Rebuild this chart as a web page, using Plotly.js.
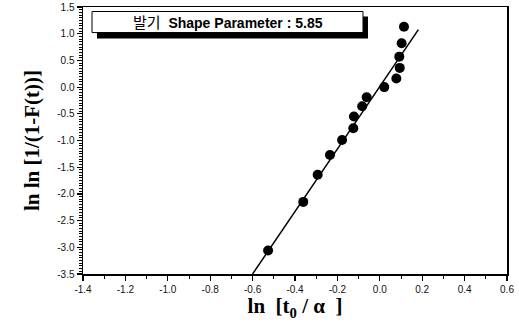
<!DOCTYPE html>
<html>
<head>
<meta charset="utf-8">
<script src="https://cdn.plot.ly/plotly-3.0.1.min.js"></script>
<style>html,body{margin:0;padding:0;background:#fff;}#chart{width:519px;height:332px;}</style>
</head>
<body>
<div id="chart"></div>
<script>
// Data
const lnT = [-0.527, -0.361, -0.293, -0.235, -0.178, -0.125, -0.122, -0.083, -0.062, 0.021, 0.078, 0.094, 0.092, 0.103, 0.114];
const lnlnF = [-3.06, -2.15, -1.64, -1.27, -0.99, -0.77, -0.55, -0.36, -0.19, 0.00, 0.16, 0.36, 0.57, 0.82, 1.13];
const fitX = [-0.60, 0.182];
const fitY = [-3.50, 1.075];
const xTicks = [-1.4, -1.2, -1.0, -0.8, -0.6, -0.4, -0.2, 0.0, 0.2, 0.4, 0.6];
const yTicks = [1.5, 1.0, 0.5, 0.0, -0.5, -1.0, -1.5, -2.0, -2.5, -3.0, -3.5];
const legendLabel = '발기';
const legendText = 'Shape Parameter : 5.85';

const traces = [
  {x: fitX, y: fitY, mode: 'lines', line: {color: '#000', width: 1.5}, hoverinfo: 'skip', showlegend: false},
  {x: lnT, y: lnlnF, mode: 'markers', marker: {color: '#000', size: 10}, showlegend: false}
];

const tickFont = {family: 'Arial, Liberation Sans, sans-serif', size: 10, color: '#111'};
const layout = {
  width: 519, height: 332,
  margin: {l: 83, r: 12, t: 7, b: 58},
  paper_bgcolor: '#fff', plot_bgcolor: '#fff',
  showlegend: false,
  xaxis: {
    range: [-1.4, 0.6], tickvals: xTicks, ticktext: xTicks.map(v => v.toFixed(1)),
    ticks: 'outside', ticklen: 5, tickwidth: 1.2, tickcolor: '#000',
    minor: {dtick: 0.1, ticks: 'outside', ticklen: 3, tickcolor: '#000', tickwidth: 1},
    showline: true, linecolor: '#000', linewidth: 1.5, mirror: true,
    showgrid: false, zeroline: false, tickfont: tickFont,
    title: {text: 'ln  [t<sub>0</sub> / α  ]', font: {family: 'Liberation Serif, Times New Roman, serif', size: 21, color: '#000', weight: 'bold'}, standoff: 5}
  },
  yaxis: {
    range: [-3.5, 1.5], tickvals: yTicks, ticktext: yTicks.map(v => v.toFixed(1)),
    ticks: 'outside', ticklen: 5, tickwidth: 1.2, tickcolor: '#000',
    minor: {dtick: 0.05, ticks: 'outside', ticklen: 3, tickcolor: '#000', tickwidth: 1},
    showline: true, linecolor: '#000', linewidth: 1.5, mirror: true,
    showgrid: false, zeroline: false, tickfont: tickFont,
    title: {text: 'ln ln [1/(1-F(t))]', font: {family: 'Liberation Serif, Times New Roman, serif', size: 21, color: '#000', weight: 'bold'}, standoff: 12}
  },
  shapes: [
    {type: 'rect', xref: 'x', yref: 'y', x0: -1.334, x1: -0.0557, y0: 0.909, y1: 1.322, fillcolor: '#000', line: {width: 0}},
    {type: 'rect', xref: 'x', yref: 'y', x0: -1.3575, x1: -0.0792, y0: 1.0216, y1: 1.4156, fillcolor: '#fff', line: {color: '#000', width: 1}}
  ],
  annotations: [
    {xref: 'x', yref: 'y', x: -0.718, y: 1.22, showarrow: false, xanchor: 'center', yanchor: 'middle',
     text: '<span style="font-family:\'Noto Sans CJK KR\';font-weight:normal;font-size:15px">' + legendLabel + '</span>  <b>' + legendText + '</b>',
     font: {family: 'Arial, Liberation Sans, sans-serif', size: 14, color: '#000'}}
  ]
};

Plotly.newPlot('chart', traces, layout, {displayModeBar: false, staticPlot: true});
</script>
</body>
</html>
